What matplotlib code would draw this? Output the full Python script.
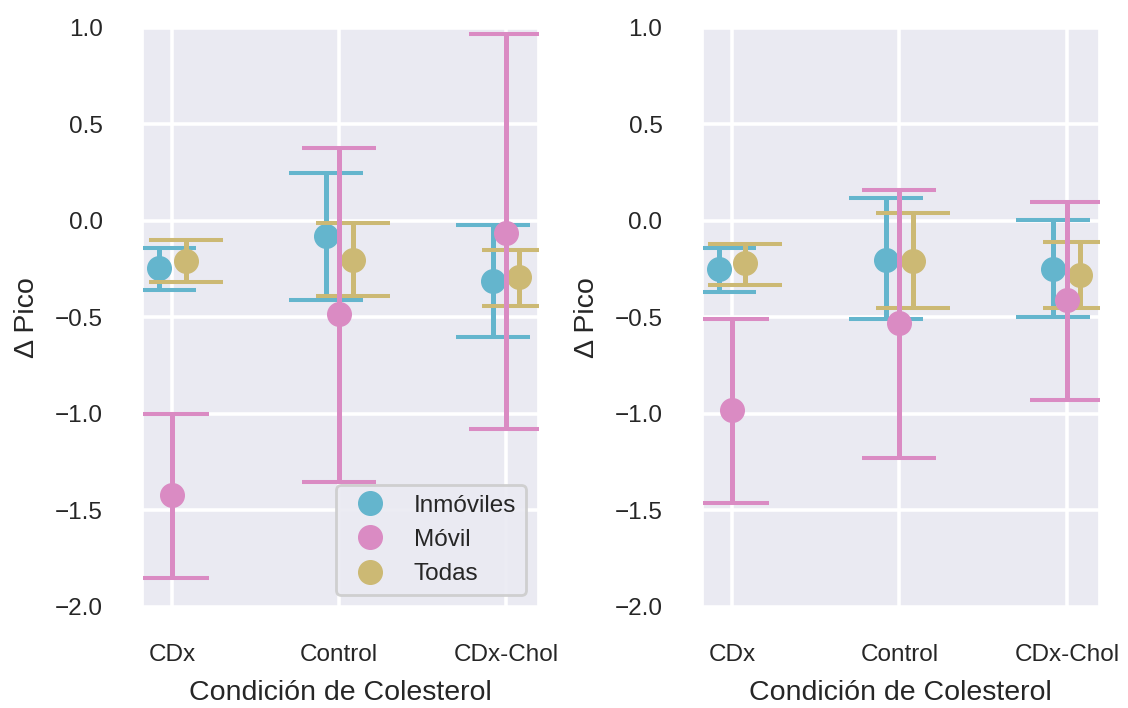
import matplotlib
matplotlib.use('Agg')
import matplotlib.pyplot as plt
import seaborn as sns
import numpy as np

# Data (mean, lower CI, upper CI per condition)
conditions = ['CDx', 'Control', 'CDx-Chol']
groups = ['Inmóviles', 'Móvil', 'Todas']

left_mean = {
    'Inmóviles': [-0.245, -0.08, -0.31],
    'Móvil':     [-1.42, -0.48, -0.06],
    'Todas':     [-0.21, -0.20, -0.29],
}
left_low = {
    'Inmóviles': [-0.36, -0.41, -0.60],
    'Móvil':     [-1.85, -1.35, -1.08],
    'Todas':     [-0.315, -0.39, -0.44],
}
left_high = {
    'Inmóviles': [-0.14, 0.25, -0.02],
    'Móvil':     [-1.00, 0.38, 0.97],
    'Todas':     [-0.10, -0.01, -0.15],
}

right_mean = {
    'Inmóviles': [-0.25, -0.20, -0.25],
    'Móvil':     [-0.98, -0.53, -0.41],
    'Todas':     [-0.22, -0.21, -0.28],
}
right_low = {
    'Inmóviles': [-0.37, -0.51, -0.50],
    'Móvil':     [-1.46, -1.23, -0.93],
    'Todas':     [-0.33, -0.45, -0.45],
}
right_high = {
    'Inmóviles': [-0.14, 0.12, 0.005],
    'Móvil':     [-0.51, 0.16, 0.10],
    'Todas':     [-0.12, 0.04, -0.11],
}

deep = sns.color_palette('deep')
COLORS = {'Inmóviles': deep[9], 'Móvil': deep[6], 'Todas': deep[8]}
ZORDER = {'Inmóviles': 3, 'Móvil': 5, 'Todas': 4}

sns.set_theme(style='darkgrid')
plt.rcParams['font.family'] = ['Liberation Sans', 'DejaVu Sans']
plt.rcParams['grid.linewidth'] = 2.6

fig = plt.figure(figsize=(11.28, 7.08), dpi=100)
ax1 = fig.add_axes([0.1268, 0.1427, 0.350, 0.8178])
ax2 = fig.add_axes([0.623, 0.1427, 0.351, 0.8178])

DODGE = 0.16
offsets = np.linspace(-DODGE / 2, DODGE / 2, len(groups))
xpos = np.arange(len(conditions))


def draw_panel(ax, means, lows, highs, legend=False):
    for off, g in zip(offsets, groups):
        m = np.array(means[g])
        lo = m - np.array(lows[g])
        hi = np.array(highs[g]) - m
        ax.errorbar(xpos + off, m, yerr=[lo, hi], fmt='o', color=COLORS[g],
                    markersize=17, elinewidth=3.6, capsize=26.5, capthick=2.9,
                    label=g, zorder=ZORDER[g])
    ax.set_xlim(-0.175, 2.19)
    ax.set_ylim(-2.0, 1.0)
    ax.set_yticks([1.0, 0.5, 0.0, -0.5, -1.0, -1.5, -2.0])
    ax.set_xticks(xpos)
    ax.set_xticklabels(conditions)
    ax.tick_params(axis='both', labelsize=17.5, length=0, colors='0.15')
    ax.tick_params(axis='x', pad=27)
    ax.tick_params(axis='y', pad=29)
    ax.set_xlabel('Condición de Colesterol', fontsize=20.5, color='0.15', labelpad=10)
    ax.set_ylabel('Δ Pico', fontsize=20.5, color='0.15', labelpad=10.5)
    if legend:
        handles = [plt.Line2D([], [], marker='o', linestyle='none', color=COLORS[g],
                              markersize=17) for g in groups]
        leg = ax.legend(handles, groups, loc='lower right', fontsize=17.5,
                        frameon=True, facecolor='#EAEAF2', edgecolor='0.8',
                        framealpha=0.9)
        leg.get_frame().set_linewidth(2)


draw_panel(ax1, left_mean, left_low, left_high, legend=True)
draw_panel(ax2, right_mean, right_low, right_high)

fig.savefig('out.png', dpi=100)
